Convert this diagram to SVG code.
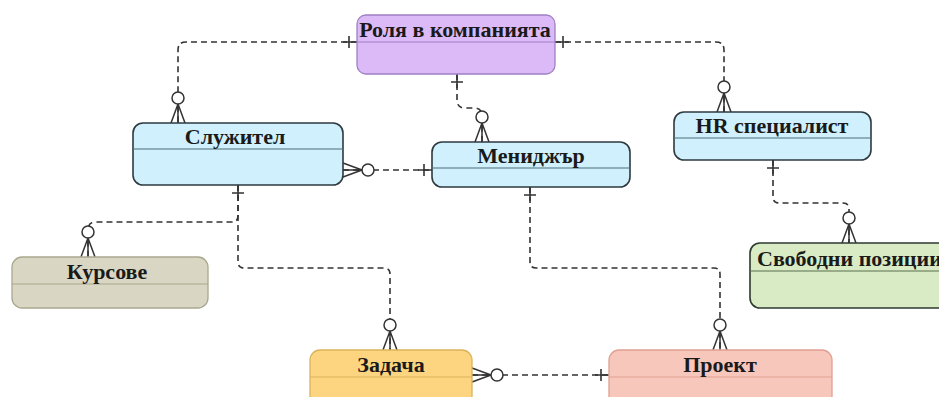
<svg xmlns="http://www.w3.org/2000/svg" width="939" height="397" viewBox="0 0 939 397">
<style>
.t{font-family:"Liberation Serif","Times New Roman",serif;font-weight:bold;font-size:22px;fill:#1a1a1a;text-anchor:middle}
.c{fill:none;stroke:#333;stroke-width:1.6;stroke-dasharray:6 4}
.hd{stroke-width:1.2}
</style>
<defs>
<marker id="one" markerUnits="userSpaceOnUse" markerWidth="30" markerHeight="30" viewBox="-15 -15 30 30" refX="0" refY="0" orient="auto-start-reverse">
<path d="M-14,0 H0 M-8,-6 V6" stroke="#333" stroke-width="1.6" fill="none"/>
</marker>
<marker id="many" markerUnits="userSpaceOnUse" markerWidth="40" markerHeight="40" viewBox="-35 -20 40 40" refX="0" refY="0" orient="auto-start-reverse">
<path d="M-19,0 L0,-7 M-19,0 L0,0 M-19,0 L0,7" stroke="#333" stroke-width="1.5" fill="none"/>
<circle cx="-25" cy="0" r="6" fill="#fff" stroke="#333" stroke-width="1.5"/>
</marker>
</defs>
<rect width="939" height="397" fill="#fff"/>
<g id="connectors">
<path class="c" d="M357,42 H186 Q178,42 178,50 V123" marker-start="url(#one)" marker-end="url(#many)"/>
<path class="c" d="M555,42 H716 Q724,42 724,50 V112" marker-start="url(#one)" marker-end="url(#many)"/>
<path class="c" d="M457,74 V100 Q457,108 465,108 H474 Q482,108 482,116 V142" marker-start="url(#one)" marker-end="url(#many)"/>
<path class="c" d="M343,170 H432" marker-start="url(#many)" marker-end="url(#one)"/>
<path class="c" d="M238,185 V216 Q238,222 232,222 H96 Q88,222 88,230 V257" marker-start="url(#one)" marker-end="url(#many)"/>
<path class="c" d="M238,185 V262 Q238,268 244,268 H384 Q390,268 390,274 V350" marker-end="url(#many)"/>
<path class="c" d="M530,187 V262 Q530,268 536,268 H714 Q720,268 720,274 V350" marker-start="url(#one)" marker-end="url(#many)"/>
<path class="c" d="M773,160 V197 Q773,203 779,203 H843 Q849,203 849,209 V243" marker-start="url(#one)" marker-end="url(#many)"/>
<path class="c" d="M472,375 H609" marker-start="url(#many)" marker-end="url(#one)"/>
</g>
<g id="role">
<rect x="357" y="15" width="198" height="59" rx="9" fill="#dcb9f7" stroke="#9f80c4" stroke-width="1.3"/>
<line class="hd" x1="357" y1="42" x2="555" y2="42" stroke="#9f80c4"/>
<text class="t" x="455" y="37">Роля в компанията</text>
</g>
<g id="employee">
<rect x="133" y="123" width="210" height="62" rx="10" fill="#cff0fc" stroke="#2e3a3f" stroke-width="1.6"/>
<line class="hd" x1="133" y1="149" x2="343" y2="149" stroke="#4b6e78"/>
<text class="t" x="235" y="144">Служител</text>
</g>
<g id="manager">
<rect x="432" y="142" width="198" height="45" rx="10" fill="#cff0fc" stroke="#2e3a3f" stroke-width="1.6"/>
<line class="hd" x1="432" y1="168" x2="630" y2="168" stroke="#4b6e78"/>
<text class="t" x="531" y="163">Мениджър</text>
</g>
<g id="hr">
<rect x="674" y="112" width="197" height="48" rx="10" fill="#cff0fc" stroke="#2e3a3f" stroke-width="1.6"/>
<line class="hd" x1="674" y1="138" x2="871" y2="138" stroke="#4b6e78"/>
<text class="t" x="772" y="133">HR специалист</text>
</g>
<g id="courses">
<rect x="12" y="257" width="196" height="51" rx="10" fill="#d9d7c3" stroke="#a9a88e" stroke-width="1.3"/>
<line class="hd" x1="12" y1="284" x2="208" y2="284" stroke="#a9a88e"/>
<text class="t" x="107" y="279">Курсове</text>
</g>
<g id="task">
<rect x="310" y="350" width="162" height="60" rx="10" fill="#fdd581" stroke="#d9b35a" stroke-width="1.3"/>
<line class="hd" x1="310" y1="377" x2="472" y2="377" stroke="#d9b35a"/>
<text class="t" x="391" y="372">Задача</text>
</g>
<g id="project">
<rect x="609" y="350" width="223" height="60" rx="10" fill="#f8c7bc" stroke="#df9f92" stroke-width="1.3"/>
<line class="hd" x1="609" y1="377" x2="832" y2="377" stroke="#df9f92"/>
<text class="t" x="720" y="372">Проект</text>
</g>
<g id="positions">
<rect x="750" y="243" width="260" height="65" rx="10" fill="#d9ebc4" stroke="#2e3a2f" stroke-width="1.6"/>
<line class="hd" x1="750" y1="271" x2="1010" y2="271" stroke="#5a6e50"/>
<text class="t" x="757" y="266" style="text-anchor:start">Свободни позиции</text>
</g>
</svg>
